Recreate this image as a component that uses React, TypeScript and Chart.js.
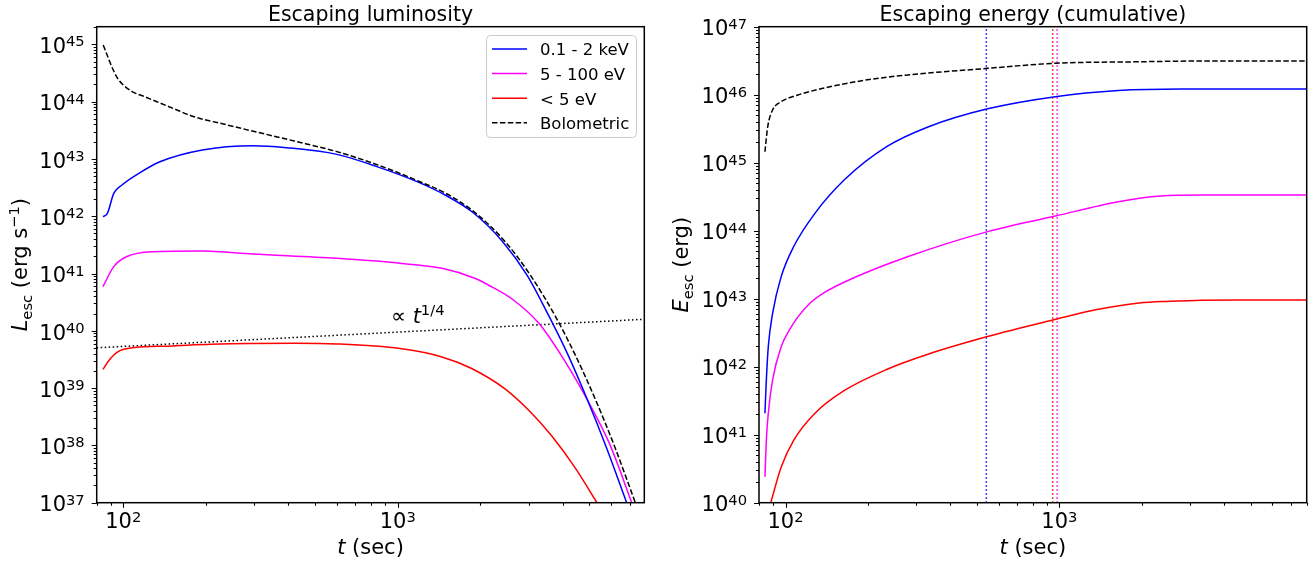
import { useEffect, useRef } from "react";
import { Chart, registerables } from "chart.js";

Chart.register(...registerables);

// ---------- Escaping luminosity L_esc (erg/s) vs t (s) ----------
const lumBoloTime = [84.5, 87.9, 91.9, 95.7, 100, 108.5, 118, 152, 180, 240, 320, 420, 600, 850, 1200, 1500, 1913, 2460, 3034, 3743, 4427, 5236, 6193, 7345];
const lumBolo = [9.7e44, 6.0e44, 3.56e44, 2.48e44, 1.95e44, 1.47e44, 1.25e44, 7.6e43, 5.5e43, 3.9e43, 2.8e43, 2.05e43, 1.34e43, 7.8e42, 4.04e42, 2.5e42, 1.16e42, 3.63e41, 9.6e40, 1.84e40, 3.87e39, 6.6e38, 9.2e37, 1.0e37];

const lumXrayTime = [84.3, 87.5, 92.3, 98.9, 114, 136, 194, 296, 393, 600, 850, 1200, 1500, 1881, 2409, 2960, 3559, 4175, 4896, 5767, 6831];
const lumXray = [9.8e41, 1.12e42, 2.5e42, 3.5e42, 5.6e42, 8.9e42, 1.43e43, 1.7e43, 1.57e43, 1.2e43, 7.2e42, 3.85e42, 2.3e42, 1.16e42, 3.63e41, 9.4e40, 1.8e40, 3.8e39, 6.5e38, 9.1e37, 1.0e37];

const lumUVTime = [84.3, 92.3, 102.6, 127, 194, 296, 600, 1020, 1450, 1920, 2140, 2640, 3270, 4040, 4990, 5940, 7130];
const lumUV = [5.9e40, 1.32e41, 1.96e41, 2.4e41, 2.47e41, 2.19e41, 1.84e41, 1.51e41, 1.23e41, 8.2e40, 6.3e40, 3.45e40, 1.35e40, 3.1e39, 5.4e38, 1.02e38, 1.0e37];

const lumOptTime = [84.3, 88.9, 95.5, 110, 146, 208, 421, 600, 1020, 1450, 1860, 2460, 3035, 3650, 4428, 5326];
const lumOpt = [2.13e39, 3.1e39, 4.3e39, 5.1e39, 5.4e39, 5.8e39, 6.05e39, 5.9e39, 4.9e39, 3.5e39, 2.2e39, 9.7e38, 3.9e38, 1.44e38, 4.1e37, 1.0e37];

// reference slope L ∝ t^(1/4)
const slopeTime = [80, 7920];
const slopeLum = [5.05e39, 1.59e40];
const slopeNoteTime = 945;
const slopeNoteLum = 1.37e40;

// ---------- Cumulative escaping energy E_esc (erg) vs t (s) ----------
const engBoloTime = [84.1, 86.1, 89.7, 96.4, 111, 137, 196, 279, 547, 966, 1960, 3340, 8000];
const engBolo = [1.45e45, 3.4e45, 5.96e45, 7.9e45, 9.9e45, 1.24e46, 1.64e46, 1.95e46, 2.44e46, 2.9e46, 3.05e46, 3.13e46, 3.13e46];

const engXrayTime = [84.1, 85.1, 86.5, 89.7, 96.4, 107, 128, 164, 234, 333, 547, 966, 1640, 2800, 4500, 8000];
const engXray = [2.07e41, 6.4e41, 1.97e42, 6.1e42, 2.11e43, 5.8e43, 1.8e44, 5.6e44, 1.72e45, 3.38e45, 6.2e45, 9.35e45, 1.15e46, 1.21e46, 1.21e46, 1.21e46];

const engUVTime = [84.1, 85.1, 86.5, 89.7, 96.4, 103, 111, 123, 137, 176, 279, 547, 966, 1640, 2340, 3340, 4500, 8000];
const engUV = [2.41e40, 8.4e40, 2.07e41, 6.4e41, 1.97e42, 3.4e42, 5.4e42, 8.65e42, 1.2e43, 2.0e43, 4.15e43, 9.7e43, 1.64e44, 2.67e44, 3.24e44, 3.35e44, 3.35e44, 3.35e44];

const engOptTime = [88.3, 96.5, 107.3, 128.1, 164.1, 233.8, 333.1, 546.6, 962.5, 1371, 1954, 2535, 3318, 4500, 8000];
const engOpt = [1.0e40, 3.38e40, 8.4e40, 2.07e41, 4.47e41, 9.1e41, 1.54e42, 2.78e42, 4.94e42, 6.93e42, 8.65e42, 9.16e42, 9.5e42, 9.57e42, 9.57e42];

// vertical markers: 0.1-2 keV, < 5 eV, 5-100 eV
const markerTimes = [541, 945, 981];
const markerColors = ["#0000ff", "#ff0000", "#ff00ff"];

// ---------- labels, colours, ticks ----------
const bandLabels = ["0.1 - 2 keV", "5 - 100 eV", "< 5 eV", "Bolometric"];
const bandColors = ["#0000ff", "#ff00ff", "#ff0000", "#000000"];
const lumTickExps = [37, 38, 39, 40, 41, 42, 43, 44, 45];
const engTickExps = [40, 41, 42, 43, 44, 45, 46, 47];
const timeTickExps = [2, 3];

const FONT = '"DejaVu Sans", sans-serif';
const DASHED = [5.5, 2.4];
const DOTTED = [1.5, 2.5];
const W = 1315;
const H = 561;

const pts = (xs: number[], ys: number[]) => xs.map((x, i) => ({ x, y: ys[i] }));

function curve(label: string, xs: number[], ys: number[], color: string, dash: number[] = [], legend = true) {
  return {
    label,
    data: pts(xs, ys),
    borderColor: color,
    backgroundColor: color,
    borderWidth: 1.5,
    borderDash: dash,
    pointRadius: 0,
    cubicInterpolationMode: "monotone" as const,
    fill: false,
    clip: 0,
    inLegend: legend,
  };
}

function straight(label: string, xs: number[], ys: number[], color: string, dash: number[]) {
  return { ...curve(label, xs, ys, color, dash, false), cubicInterpolationMode: "default" as const, tension: 0 };
}

function setFont(ctx: CanvasRenderingContext2D, size: number, italic = false) {
  ctx.font = `${italic ? "italic " : ""}${size}px ${FONT}`;
}

type Piece = { text: string; size: number; italic?: boolean; dy?: number };

function piecesWidth(ctx: CanvasRenderingContext2D, pieces: Piece[]) {
  let w = 0;
  for (const p of pieces) {
    setFont(ctx, p.size, p.italic);
    w += ctx.measureText(p.text).width;
  }
  return w;
}

function drawPieces(ctx: CanvasRenderingContext2D, pieces: Piece[], x0: number, baseline: number) {
  let x = x0;
  ctx.textAlign = "left";
  ctx.textBaseline = "alphabetic";
  for (const p of pieces) {
    setFont(ctx, p.size, p.italic);
    ctx.fillText(p.text, x, baseline + (p.dy ?? 0));
    x += ctx.measureText(p.text).width;
  }
}

const BIG = 21;
const SUP = 14.7;
const powPieces = (exp: number): Piece[] => [
  { text: "10", size: BIG },
  { text: String(exp), size: SUP, dy: -6.7 },
];

function logTicks(min: number, max: number) {
  const out: { v: number; major: boolean }[] = [];
  const d0 = Math.floor(Math.log10(min));
  const d1 = Math.ceil(Math.log10(max));
  for (let d = d0; d <= d1; d++) {
    for (let k = 1; k <= 9; k++) {
      const v = k * Math.pow(10, d);
      if (v >= min * 0.9999 && v <= max * 1.0001) out.push({ v, major: k === 1 });
    }
  }
  return out;
}

type PanelSpec = {
  id: string;
  title: string;
  yExps: number[];
  yLabel: Piece[];
  yLabelX: number;
  legend: boolean;
  note: boolean;
};

function decor(spec: PanelSpec) {
  return {
    id: "decor-" + spec.id,
    afterDraw(chart: any) {
      const ctx: CanvasRenderingContext2D = chart.ctx;
      const { left, right, top, bottom } = chart.chartArea;
      const xs = chart.scales.x;
      const ys = chart.scales.y;
      ctx.save();
      ctx.fillStyle = "#000";
      ctx.strokeStyle = "#000";
      ctx.setLineDash([]);

      // ticks (outward)
      ctx.lineWidth = 1.1;
      ctx.beginPath();
      for (const t of logTicks(xs.min, xs.max)) {
        const px = Math.round(xs.getPixelForValue(t.v)) + 0.5;
        ctx.moveTo(px, bottom);
        ctx.lineTo(px, bottom + (t.major ? 5 : 3));
      }
      for (const t of logTicks(ys.min, ys.max)) {
        const py = Math.round(ys.getPixelForValue(t.v)) + 0.5;
        ctx.moveTo(left, py);
        ctx.lineTo(left - (t.major ? 5 : 3), py);
      }
      ctx.stroke();

      // frame
      ctx.lineWidth = 1.5;
      ctx.strokeRect(left, top, right - left, bottom - top);

      // tick labels
      for (const e of timeTickExps) {
        const px = xs.getPixelForValue(Math.pow(10, e));
        const p = powPieces(e);
        drawPieces(ctx, p, px - piecesWidth(ctx, p) / 2, bottom + 25.6);
      }
      for (const e of spec.yExps) {
        const py = ys.getPixelForValue(Math.pow(10, e));
        const p = powPieces(e);
        drawPieces(ctx, p, left - 12 - piecesWidth(ctx, p), py + 8.7);
      }

      // x axis label
      const xl: Piece[] = [
        { text: "t", size: BIG, italic: true },
        { text: " (sec)", size: BIG },
      ];
      drawPieces(ctx, xl, (left + right) / 2 - piecesWidth(ctx, xl) / 2, 554);

      // y axis label (rotated)
      ctx.save();
      ctx.translate(spec.yLabelX, (top + bottom) / 2);
      ctx.rotate(-Math.PI / 2);
      drawPieces(ctx, spec.yLabel, -piecesWidth(ctx, spec.yLabel) / 2, 0);
      ctx.restore();

      // title
      setFont(ctx, 20.5);
      ctx.textAlign = "center";
      ctx.textBaseline = "alphabetic";
      ctx.fillText(spec.title, (left + right) / 2, 21);

      // slope annotation
      if (spec.note) {
        const nx = xs.getPixelForValue(slopeNoteTime);
        const ny = ys.getPixelForValue(slopeNoteLum);
        drawPieces(
          ctx,
          [
            { text: "\u221D ", size: BIG },
            { text: "t", size: BIG, italic: true },
            { text: "1/4", size: SUP, dy: -8 },
          ],
          nx,
          ny
        );
      }

      // legend
      if (spec.legend) {
        const ds = chart.data.datasets.filter((d: any) => d.inLegend);
        const order = bandLabels.map((l) => ds.find((d: any) => d.label === l)).filter(Boolean);
        const bx = 486.5, by = 35.5, bw = 150, bh = 102, r = 4;
        ctx.beginPath();
        ctx.moveTo(bx + r, by);
        ctx.arcTo(bx + bw, by, bx + bw, by + bh, r);
        ctx.arcTo(bx + bw, by + bh, bx, by + bh, r);
        ctx.arcTo(bx, by + bh, bx, by, r);
        ctx.arcTo(bx, by, bx + bw, by, r);
        ctx.closePath();
        ctx.fillStyle = "rgba(255,255,255,0.8)";
        ctx.fill();
        ctx.strokeStyle = "#cccccc";
        ctx.lineWidth = 1;
        ctx.stroke();
        order.forEach((d: any, i: number) => {
          const ry = 49 + i * 24.6;
          ctx.strokeStyle = d.borderColor;
          ctx.lineWidth = 1.5;
          ctx.setLineDash(d.borderDash || []);
          ctx.beginPath();
          ctx.moveTo(492, ry);
          ctx.lineTo(527, ry);
          ctx.stroke();
          ctx.setLineDash([]);
          ctx.fillStyle = "#000";
          setFont(ctx, 16.5);
          ctx.textAlign = "left";
          ctx.fillText(d.label, 540, ry + 6.3);
        });
      }
      ctx.restore();
    },
  };
}

function makeChart(canvas: HTMLCanvasElement, datasets: any[], pad: any, xr: number[], yr: number[], spec: PanelSpec) {
  return new Chart(canvas, {
    type: "line",
    data: { datasets },
    options: {
      responsive: false,
      animation: false,
      events: [],
      layout: { padding: pad },
      scales: {
        x: { type: "logarithmic", min: xr[0], max: xr[1], display: false },
        y: { type: "logarithmic", min: yr[0], max: yr[1], display: false },
      },
      plugins: {
        legend: { display: false },
        tooltip: { enabled: false },
        title: { display: false },
      },
    } as any,
    plugins: [decor(spec)],
  });
}

export default function App() {
  const leftRef = useRef<HTMLCanvasElement>(null);
  const rightRef = useRef<HTMLCanvasElement>(null);

  useEffect(() => {
    if (!leftRef.current || !rightRef.current) return;

    const lumSets = [
      curve(bandLabels[3], lumBoloTime, lumBolo, bandColors[3], DASHED),
      curve(bandLabels[0], lumXrayTime, lumXray, bandColors[0]),
      curve(bandLabels[1], lumUVTime, lumUV, bandColors[1]),
      curve(bandLabels[2], lumOptTime, lumOpt, bandColors[2]),
      straight("t^1/4", slopeTime, slopeLum, "#000000", DOTTED),
    ];
    const engSets = [
      curve(bandLabels[3], engBoloTime, engBolo, bandColors[3], DASHED),
      curve(bandLabels[0], engXrayTime, engXray, bandColors[0]),
      curve(bandLabels[1], engUVTime, engUV, bandColors[1]),
      curve(bandLabels[2], engOptTime, engOpt, bandColors[2]),
      ...markerTimes.map((t, i) =>
        straight("marker" + i, [t, t], [1e40, 1e47], markerColors[i], DOTTED)
      ),
    ];

    const left = makeChart(
      leftRef.current,
      lumSets,
      { left: 96.7, right: W - 644.3, top: 26.7, bottom: H - 502.7 },
      [80, 7920],
      [1e37, 2.03e45],
      {
        id: "lum",
        title: "Escaping luminosity",
        yExps: lumTickExps,
        yLabel: [
          { text: "L", size: BIG, italic: true },
          { text: "esc", size: SUP, dy: 4.5 },
          { text: " (erg s", size: BIG },
          { text: "\u22121", size: SUP, dy: -8 },
          { text: ")", size: BIG },
        ],
        yLabelX: 27,
        legend: true,
        note: true,
      }
    );
    const right = makeChart(
      rightRef.current,
      engSets,
      { left: 759, right: W - 1306.7, top: 26.7, bottom: H - 502.7 },
      [80, 8000],
      [1e40, 1e47],
      {
        id: "eng",
        title: "Escaping energy (cumulative)",
        yExps: engTickExps,
        yLabel: [
          { text: "E", size: BIG, italic: true },
          { text: "esc", size: SUP, dy: 4.5 },
          { text: " (erg)", size: BIG },
        ],
        yLabelX: 688,
        legend: false,
        note: false,
      }
    );
    return () => {
      left.destroy();
      right.destroy();
    };
  }, []);

  const canvasStyle: React.CSSProperties = { position: "absolute", left: 0, top: 0, width: W, height: H };
  return (
    <div style={{ position: "fixed", left: 0, top: 0, width: W, height: H, background: "#ffffff" }}>
      <canvas ref={leftRef} width={W} height={H} style={canvasStyle} />
      <canvas ref={rightRef} width={W} height={H} style={canvasStyle} />
    </div>
  );
}
